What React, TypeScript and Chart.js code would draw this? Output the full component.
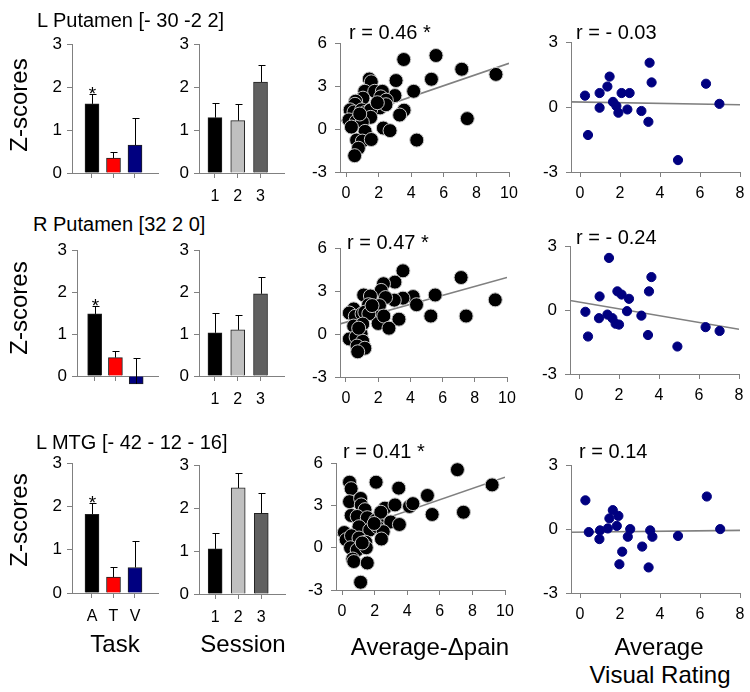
import React, { useEffect, useRef } from 'react';
import { Chart, registerables } from 'chart.js';
Chart.register(...registerables);

const FONT = "'Liberation Sans', Arial, Helvetica, sans-serif";

// ---------------- Data ----------------
const taskLabels = ['A', 'T', 'V'];
const sessionLabels = ['1', '2', '3'];
const taskStars = ['*', '', ''];
const sessionStars = ['', '', ''];

const lPutTask = [1.61, 0.35, 0.65];
const lPutTaskErr = [1.83, 0.48, 1.27];
const lPutSession = [1.29, 1.22, 2.12];
const lPutSessionErr = [1.64, 1.61, 2.52];

const rPutTask = [1.48, 0.44, -0.19];
const rPutTaskErr = [1.68, 0.6, 0.43];
const rPutSession = [1.03, 1.1, 1.96];
const rPutSessionErr = [1.51, 1.46, 2.37];

const lMtgTask = [1.82, 0.37, 0.59];
const lMtgTaskErr = [2.07, 0.6, 1.21];
const lMtgSession = [1.05, 2.47, 1.88];
const lMtgSessionErr = [1.41, 2.81, 2.35];

const painTicksX = [0, 2, 4, 6, 8, 10];
const painTicksY = [-3, 0, 3, 6];
const visTicksX = [0, 2, 4, 6, 8];
const visTicksY = [-3, 0, 3];
const barTicksY = [0, 1, 2, 3];

const lPutPain = [
  [3.54, 4.86], [5.52, 5.14], [7.1, 4.18], [9.2, 3.82], [7.44, 0.73], [4.34, -0.77],
  [1.43, 3.5], [1.55, 3.3], [3.07, 3.39], [5.24, 3.48], [4.15, 2.64], [3.0, 2.34],
  [1.15, 2.64], [1.76, 2.64], [2.23, 2.64], [2.13, 2.25], [2.47, 2.02], [1.04, 2.16],
  [0.59, 1.95], [0.55, 1.73], [2.09, 1.48], [2.45, 1.7], [3.56, 1.32], [3.29, 0.98],
  [0.25, 1.34], [0.49, 1.2], [0.96, 1.34], [1.19, 1.16], [1.51, 1.34], [1.51, 0.82],
  [0.18, 0.64], [0.63, 0.55], [1.0, 0.48], [0.33, 0.14], [1.17, -0.16], [2.29, 0.07],
  [2.7, -0.11], [0.65, -0.77], [1.0, -0.84], [1.55, -0.73], [0.76, -1.34], [0.53, -1.86],
  [0.84, 1.05], [1.92, 1.84],
];
const lPutPainFit = [[-0.37, 0.55], [10, 4.59]];

const lPutVis = [
  [0.25, 0.53], [0.4, -1.29], [0.98, 0.65], [0.98, -0.03], [1.37, 0.95], [1.48, 1.41],
  [1.65, 0.24], [1.82, 0.05], [1.92, -0.26], [2.08, 0.65], [2.48, 0.65], [2.37, -0.11],
  [3.07, -0.18], [3.42, -0.68], [3.48, 2.05], [3.58, 1.14], [4.9, -2.45], [6.3, 1.08],
  [6.97, 0.15],
];
const lPutVisFit = [[-0.45, 0.24], [8, 0.11]];

const rPutPain = [
  [3.54, 4.42], [7.15, 3.95], [9.27, 2.39], [7.46, 1.26], [5.27, 1.26], [5.54, 2.73],
  [4.17, 2.62], [4.38, 2.05], [3.54, 2.51], [3.04, 3.63], [3.0, 2.37], [2.33, 3.52],
  [2.19, 3.05], [2.46, 2.55], [1.1, 2.73], [1.52, 2.66], [1.4, 2.05], [1.79, 1.94],
  [2.08, 1.99], [2.08, 1.2], [2.0, 0.74], [2.35, 1.26], [3.29, 1.04], [2.67, 0.41],
  [0.48, 1.76], [0.21, 1.47], [0.58, 1.24], [1.0, 1.42], [1.17, 1.53], [1.42, 1.42],
  [0.48, 0.56], [1.04, 0.7], [0.94, 0.02], [0.21, -0.34], [0.63, -0.2], [1.04, -0.5],
  [0.69, -0.84], [1.17, -0.99], [0.73, -1.24], [0.79, 0.41], [1.62, 1.99],
];
const rPutPainFit = [[-0.37, 0.71], [10, 3.95]];

const rPutVis = [
  [0.32, -0.08], [0.45, -1.24], [1.03, 0.64], [1.0, -0.38], [1.42, -0.21], [1.5, 2.45],
  [1.67, -0.38], [1.83, -0.64], [2.0, -0.68], [1.92, 0.88], [2.13, 0.73], [2.5, 0.53],
  [2.4, -0.05], [3.12, -0.26], [3.45, -1.17], [3.5, 0.88], [3.62, 1.55], [4.92, -1.71],
  [6.33, -0.8], [7.03, -0.98],
];
const rPutVisFit = [[-0.45, 0.45], [8, -0.9]];

const lMtgPain = [
  [7.08, 5.54], [9.21, 4.46], [7.45, 2.52], [5.53, 2.36], [5.24, 3.71], [4.14, 2.93],
  [4.35, 3.13], [3.48, 4.23], [2.09, 4.65], [0.46, 4.65], [0.56, 4.19], [0.46, 3.27],
  [1.14, 3.5], [1.18, 3.04], [1.41, 2.7], [0.56, 2.29], [0.93, 2.22], [1.55, 2.13],
  [2.07, 1.95], [2.22, 1.72], [2.63, 2.81], [2.38, 2.52], [3.25, 3.04], [2.99, 1.83],
  [3.52, 1.65], [1.04, 1.49], [1.7, 1.26], [2.17, 1.49], [2.53, 1.14], [2.42, 0.62],
  [0.14, 1.08], [0.25, 0.57], [0.58, 0.85], [1.04, 0.69], [1.45, 0.39], [0.52, 0.0],
  [0.93, -0.16], [1.49, 0.0], [0.66, -0.8], [0.72, -0.98], [1.55, -1.08], [1.14, -2.45],
  [1.24, 0.34], [1.97, 1.72],
];
const lMtgPainFit = [[-0.37, 0.86], [10, 5.01]];

const lMtgVis = [
  [0.27, 1.35], [0.44, -0.14], [0.97, -0.47], [1.0, -0.06], [1.39, 0.03], [1.47, 0.5],
  [1.64, 0.89], [1.84, 0.15], [1.92, 0.62], [1.97, -1.65], [2.11, -1.06], [2.39, -0.36],
  [2.51, 0.0], [3.11, -0.82], [3.43, -1.8], [3.51, -0.06], [3.62, -0.36], [4.9, -0.32],
  [6.34, 1.53], [7.01, 0.0],
];
const lMtgVisFit = [[-0.45, -0.15], [8, -0.06]];

// ---------------- Styles ----------------
const taskColors = ['#000000', '#ff0000', '#000080'];
const sessionColors = ['#000000', '#c0c0c0', '#606060'];
const AXIS = '#808080';

type Rect = { l: number; t: number; r: number; b: number };
const PAD = { l: 46, t: 14, r: 16, b: 40 };

function axis(kind: 'x' | 'y', min: number, max: number, vals: number[], size: number, pad: number, cb?: (v: number) => string) {
  return {
    type: 'linear',
    min,
    max,
    offset: false,
    afterBuildTicks: (s: any) => { s.ticks = vals.map((v) => ({ value: v })); },
    afterFit: (s: any) => { if (kind === 'x') s.height = PAD.b; else s.width = PAD.l; },
    grid: { display: true, offset: false, drawOnChartArea: false, drawTicks: true, tickLength: 5, color: AXIS, tickColor: AXIS },
    border: { display: true, color: AXIS, width: 1 },
    ticks: {
      color: '#000',
      font: { family: FONT, size },
      padding: pad,
      autoSkip: false,
      maxRotation: 0,
      minRotation: 0,
      callback: cb || ((v: number) => String(v)),
    },
  };
}

const baseOptions = {
  responsive: false,
  animation: false,
  devicePixelRatio: 1,
  events: [],
  layout: { padding: { top: PAD.t, right: PAD.r, left: 0, bottom: 0 } },
  plugins: { legend: { display: false }, tooltip: { enabled: false }, title: { display: false } },
};

function errPlugin(tops: number[], stars: string[]) {
  return {
    id: 'errbars',
    afterDatasetsDraw(chart: any) {
      const meta = chart.getDatasetMeta(0);
      const ys = chart.scales.y;
      const ctx = chart.ctx;
      ctx.save();
      ctx.strokeStyle = '#000';
      ctx.lineWidth = 1;
      meta.data.forEach((bar: any, i: number) => {
        const x = Math.round(bar.x) + 0.5;
        const yTop = Math.round(ys.getPixelForValue(tops[i])) + 0.5;
        ctx.beginPath();
        ctx.moveTo(x, bar.y);
        ctx.lineTo(x, yTop);
        ctx.moveTo(x - 3, yTop);
        ctx.lineTo(x + 4, yTop);
        ctx.stroke();
        if (stars[i]) {
          ctx.fillStyle = '#000';
          ctx.font = `19px ${FONT}`;
          ctx.textAlign = 'center';
          ctx.textBaseline = 'alphabetic';
          ctx.fillText(stars[i], x, yTop + 5);
        }
      });
      ctx.restore();
    },
  };
}

function barConfig(values: number[], tops: number[], labels: string[], showLabels: boolean, colors: string[], xMin: number, xMax: number, stars: string[]) {
  return {
    type: 'bar',
    data: {
      datasets: [{
        data: values.map((v, i) => ({ x: i + 1, y: v })),
        backgroundColor: colors,
        borderColor: '#202020',
        borderWidth: 1,
        barThickness: 14,
        clip: false,
      }],
    },
    options: {
      ...baseOptions,
      scales: {
        x: axis('x', xMin, xMax, [1, 2, 3], 16, 9, (v: number) => (showLabels ? labels[v - 1] || '' : '')),
        y: axis('y', 0, 3, barTicksY, 17, 5),
      },
    },
    plugins: [errPlugin(tops, stars)],
  };
}

function scatterConfig(points: number[][], fit: number[][], xMin: number, xMax: number, xTicks: number[], yMin: number, yMax: number, yTicks: number[], color: string, edge: string, radius: number) {
  return {
    type: 'scatter',
    data: {
      datasets: [
        {
          type: 'scatter',
          data: points.map(([x, y]) => ({ x, y })),
          backgroundColor: color,
          borderColor: edge,
          borderWidth: 1,
          pointRadius: radius,
          order: 0,
          clip: false,
        },
        {
          type: 'line',
          data: fit.map(([x, y]) => ({ x, y })),
          borderColor: '#808080',
          borderWidth: 1.6,
          pointRadius: 0,
          showLine: true,
          fill: false,
          order: 1,
        },
      ],
    },
    options: {
      ...baseOptions,
      scales: {
        x: axis('x', xMin, xMax, xTicks, 16, 7),
        y: axis('y', yMin, yMax, yTicks, 17, 8),
      },
    },
  };
}

function ChartBox({ rect, config }: { rect: Rect; config: () => any }) {
  const ref = useRef<HTMLCanvasElement>(null);
  useEffect(() => {
    const chart = new Chart(ref.current as HTMLCanvasElement, config());
    return () => chart.destroy();
  }, []);
  const w = rect.r - rect.l + PAD.l + PAD.r;
  const h = rect.b - rect.t + PAD.t + PAD.b;
  return (
    <canvas
      ref={ref}
      width={w}
      height={h}
      style={{ position: 'absolute', left: rect.l - PAD.l, top: rect.t - PAD.t, width: w, height: h }}
    />
  );
}

function Txt({ x, base, size, children, center, rotate }: { x: number; base: number; size: number; children: React.ReactNode; center?: boolean; rotate?: boolean }) {
  if (rotate) {
    return (
      <div style={{
        position: 'absolute', left: x - 100, top: base - size / 2, width: 200, height: size, lineHeight: `${size}px`,
        fontFamily: FONT, fontSize: size, textAlign: 'center', transform: 'rotate(-90deg)', whiteSpace: 'nowrap', color: '#000',
      }}>{children}</div>
    );
  }
  const top = base - 0.8465 * size;
  return (
    <div style={{
      position: 'absolute', left: center ? x - 150 : x, top, width: center ? 300 : undefined, lineHeight: `${size}px`,
      fontFamily: FONT, fontSize: size, textAlign: center ? 'center' : 'left', whiteSpace: 'pre', color: '#000',
    }}>{children}</div>
  );
}

const TASK_X = [0.07, 4.07];
const SESS_X = [0.3, 4.03];
const PAIN_X = [-0.37, 10];
const VIS_X = [-0.45, 8];

export default function App() {
  return (
    <div style={{ position: 'absolute', left: 0, top: 0, width: 750, height: 692, background: '#fff', overflow: 'hidden' }}>
      {/* Row 1: L Putamen */}
      <ChartBox rect={{ l: 72, t: 43, r: 158, b: 173 }} config={() => barConfig(lPutTask, lPutTaskErr, taskLabels, false, taskColors, TASK_X[0], TASK_X[1], taskStars)} />
      <ChartBox rect={{ l: 199, t: 43, r: 284, b: 173 }} config={() => barConfig(lPutSession, lPutSessionErr, sessionLabels, true, sessionColors, SESS_X[0], SESS_X[1], sessionStars)} />
      <ChartBox rect={{ l: 340, t: 39, r: 509, b: 172 }} config={() => scatterConfig(lPutPain, lPutPainFit, PAIN_X[0], PAIN_X[1], painTicksX, -3, 6, painTicksY, '#000000', '#c8c8c8', 7)} />
      <ChartBox rect={{ l: 571, t: 38, r: 740, b: 172 }} config={() => scatterConfig(lPutVis, lPutVisFit, VIS_X[0], VIS_X[1], visTicksX, -3, 3, visTicksY, '#000080', '#000080', 4.6)} />

      {/* Row 2: R Putamen */}
      <ChartBox rect={{ l: 77, t: 249, r: 158, b: 376 }} config={() => barConfig(rPutTask, rPutTaskErr, taskLabels, false, taskColors, 0.15, 4.05, taskStars)} />
      <ChartBox rect={{ l: 199, t: 249, r: 284, b: 376 }} config={() => barConfig(rPutSession, rPutSessionErr, sessionLabels, true, sessionColors, SESS_X[0], SESS_X[1], sessionStars)} />
      <ChartBox rect={{ l: 340, t: 244, r: 507, b: 377 }} config={() => scatterConfig(rPutPain, rPutPainFit, PAIN_X[0], PAIN_X[1], painTicksX, -3, 6, painTicksY, '#000000', '#c8c8c8', 7)} />
      <ChartBox rect={{ l: 570, t: 242, r: 739, b: 374 }} config={() => scatterConfig(rPutVis, rPutVisFit, VIS_X[0], VIS_X[1], visTicksX, -3, 3, visTicksY, '#000080', '#000080', 4.6)} />

      {/* Row 3: L MTG */}
      <ChartBox rect={{ l: 72, t: 462, r: 158, b: 593 }} config={() => barConfig(lMtgTask, lMtgTaskErr, taskLabels, true, taskColors, TASK_X[0], TASK_X[1], taskStars)} />
      <ChartBox rect={{ l: 199, t: 464, r: 285, b: 594 }} config={() => barConfig(lMtgSession, lMtgSessionErr, sessionLabels, true, sessionColors, SESS_X[0], SESS_X[1], sessionStars)} />
      <ChartBox rect={{ l: 336, t: 459, r: 505, b: 590 }} config={() => scatterConfig(lMtgPain, lMtgPainFit, PAIN_X[0], PAIN_X[1], painTicksX, -3, 6, painTicksY, '#000000', '#c8c8c8', 7)} />
      <ChartBox rect={{ l: 571, t: 461, r: 740, b: 593 }} config={() => scatterConfig(lMtgVis, lMtgVisFit, VIS_X[0], VIS_X[1], visTicksX, -3, 3, visTicksY, '#000080', '#000080', 4.6)} />

      {/* Titles */}
      <Txt x={37} base={27} size={20}>L Putamen [- 30 -2 2]</Txt>
      <Txt x={33} base={231} size={20}>R Putamen [32 2 0]</Txt>
      <Txt x={36} base={449} size={20}>L MTG [- 42 - 12 - 16]</Txt>

      <Txt x={19} base={105} size={24} rotate>Z-scores</Txt>
      <Txt x={19} base={308} size={24} rotate>Z-scores</Txt>
      <Txt x={19} base={520} size={24} rotate>Z-scores</Txt>

      <Txt x={349} base={39} size={20}>r = 0.46 *</Txt>
      <Txt x={576} base={39} size={20}>r = - 0.03</Txt>
      <Txt x={347} base={249} size={20}>r = 0.47 *</Txt>
      <Txt x={576} base={244} size={20}>r = - 0.24</Txt>
      <Txt x={343} base={458} size={20}>r = 0.41 *</Txt>
      <Txt x={579} base={458} size={20}>r = 0.14</Txt>

      <Txt x={115} base={652} size={24} center>Task</Txt>
      <Txt x={243} base={652} size={24} center>Session</Txt>
      <Txt x={430} base={655} size={24} center>Average-Δpain</Txt>
      <Txt x={659} base={655} size={24} center>Average</Txt>
      <Txt x={660} base={683} size={24} center>Visual Rating</Txt>
    </div>
  );
}
